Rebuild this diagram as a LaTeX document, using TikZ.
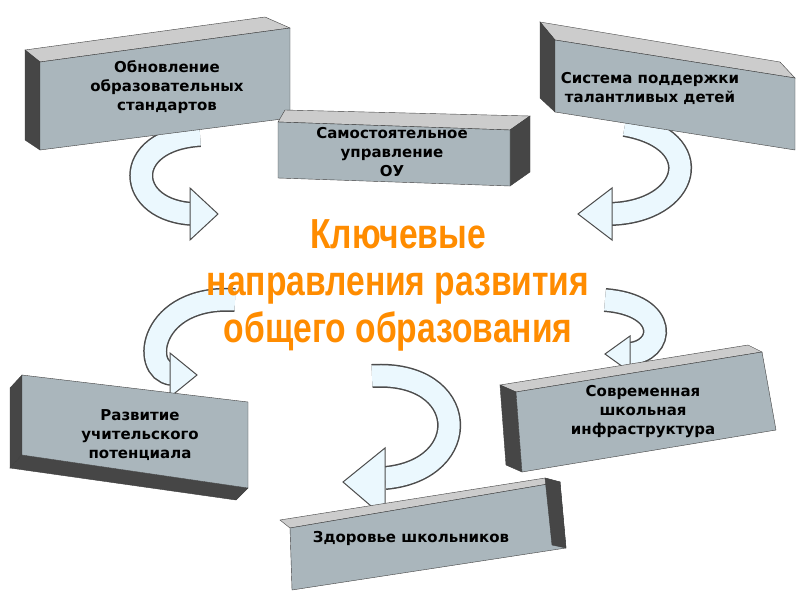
\documentclass[tikz,border=0pt]{standalone}
\usepackage{fontspec}
\setmainfont{DejaVu Sans}
\newfontfamily\titlefont{Liberation Sans}
\begin{document}
\begin{tikzpicture}[x=1pt,y=-1pt,
  front/.style={fill=gray!65!cyan!60!black!50,draw=gray!50!black},
  topf/.style={fill=gray!40,draw=gray!50!black},
  sidef/.style={fill=gray!55!black,draw=gray!50!black},
  lbl/.style={font=\bfseries\fontsize{15}{19}\selectfont,align=center},
  band/.style={line width=24pt,draw=gray!60!black},
  bandin/.style={line width=21pt,draw=cyan!8},
  tipf/.style={fill=cyan!8,draw=gray!60!black,line width=1pt}]
\useasboundingbox (0,0) rectangle (800,600);
\fill[white] (0,0) rectangle (800,600);
% arrows
\draw[band] (200,135) .. controls (120,140) and (125,212) .. (195,214);
\draw[bandin] (200,135) .. controls (120,140) and (125,212) .. (195,214);
\filldraw[tipf] (190,188) -- (218,214) -- (190,240) -- cycle;
\draw[band] (625,125) .. controls (710,140) and (690,212) .. (610,214);
\draw[bandin] (625,125) .. controls (710,140) and (690,212) .. (610,214);
\filldraw[tipf] (612,188) -- (578,214) -- (612,240) -- cycle;
\draw[band] (235,300) .. controls (150,295) and (140,370) .. (172,374);
\draw[bandin] (235,300) .. controls (150,295) and (140,370) .. (172,374);
\filldraw[tipf] (170,353) -- (197,375) -- (170,397) -- cycle;
\draw[band] (605,300) .. controls (670,305) and (665,352) .. (628,354);
\draw[bandin] (605,300) .. controls (670,305) and (665,352) .. (628,354);
\filldraw[tipf] (630,336) -- (605,354) -- (630,372) -- cycle;
\draw[band] (372,376) .. controls (470,370) and (475,470) .. (385,478);
\draw[bandin] (372,376) .. controls (470,370) and (475,470) .. (385,478);
\filldraw[tipf] (385,448) -- (343,482) -- (385,518) -- cycle;
% box1
\filldraw[topf] (25,50) -- (265,17) -- (290,28) -- (40,62) -- cycle;
\filldraw[sidef] (25,50) -- (40,62) -- (40,150) -- (25,140) -- cycle;
\filldraw[front] (40,62) -- (290,28) -- (290,118) -- (40,150) -- cycle;
\node[lbl] (b1) at (167,87) {Обновление\\образовательных\\стандартов};
% box2
\filldraw[topf] (540,22) -- (780,62) -- (795,78) -- (555,40) -- cycle;
\filldraw[sidef] (540,22) -- (555,40) -- (555,112) -- (540,98) -- cycle;
\filldraw[front] (555,40) -- (795,78) -- (795,150) -- (555,112) -- cycle;
\node[lbl] (b2) at (650,88) {Система поддержки\\талантливых детей};
% box3
\filldraw[topf] (285,110) -- (530,116) -- (510,130) -- (278,122) -- cycle;
\filldraw[sidef] (510,130) -- (530,116) -- (530,172) -- (510,186) -- cycle;
\filldraw[front] (278,122) -- (510,130) -- (510,186) -- (278,178) -- cycle;
\node[lbl] (b3) at (392,152) {Самостоятельное\\управление\\ОУ};
% box4
\filldraw[sidef] (10,388) -- (22,375) -- (22,455) -- (10,468) -- cycle;
\filldraw[sidef] (22,455) -- (248,488) -- (236,500) -- (10,468) -- cycle;
\filldraw[front] (22,375) -- (248,402) -- (248,488) -- (22,455) -- cycle;
\node[lbl] (b4) at (140,435) {Развитие\\учительского\\потенциала};
% box5
\filldraw[topf] (500,385) -- (748,345) -- (762,352) -- (516,392) -- cycle;
\filldraw[sidef] (500,385) -- (516,392) -- (522,472) -- (506,465) -- cycle;
\filldraw[front] (516,392) -- (762,352) -- (776,430) -- (522,472) -- cycle;
\node[lbl] (b5) at (643,412) {Современная\\школьная\\инфраструктура};
% box6
\filldraw[topf] (280,520) -- (545,478) -- (560,482) -- (290,528) -- cycle;
\filldraw[front] (290,528) -- (560,482) -- (566,548) -- (292,590) -- cycle;
\filldraw[sidef] (560,482) -- (545,478) -- (552,545) -- (566,548) -- cycle;
\node[lbl] (b6) at (411,538) {Здоровье школьников};
% title
\node[font=\titlefont\bfseries\fontsize{42}{47}\selectfont,align=center,
  text=orange!90!yellow,xscale=0.8] (t) at (398,285)
  {Ключевые\\направления развития\\общего образования};
\end{tikzpicture}
\end{document}
